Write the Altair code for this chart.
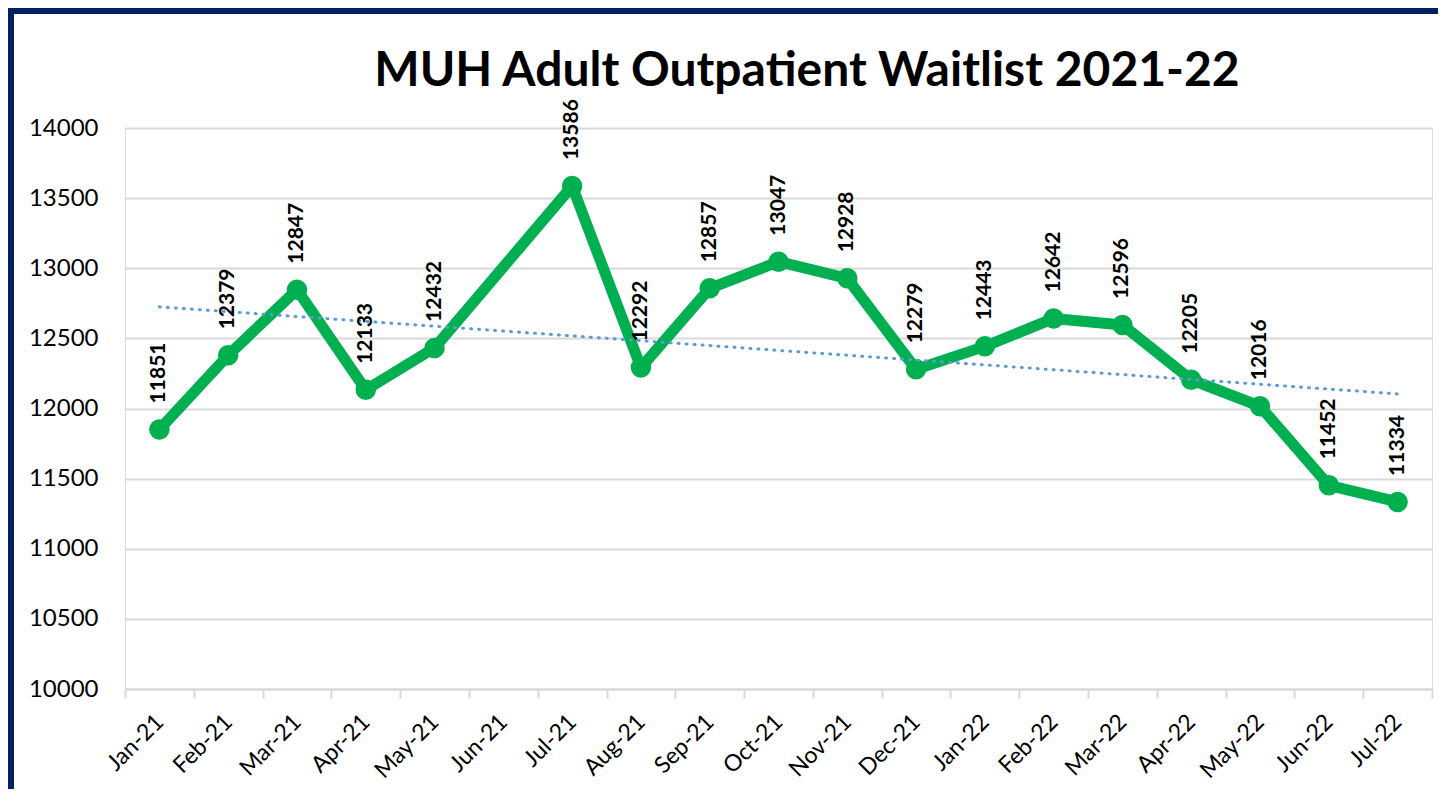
import altair as alt
import pandas as pd
import json

months = ["Jan-21", "Feb-21", "Mar-21", "Apr-21", "May-21", "Jun-21", "Jul-21", "Aug-21",
          "Sep-21", "Oct-21", "Nov-21", "Dec-21", "Jan-22", "Feb-22", "Mar-22", "Apr-22",
          "May-22", "Jun-22", "Jul-22"]
values = [11851, 12379, 12847, 12133, 12432, None, 13586, 12292,
          12857, 13047, 12928, 12279, 12443, 12642, 12596, 12205,
          12016, 11452, 11334]
y_ticks = [10000, 10500, 11000, 11500, 12000, 12500, 13000, 13500, 14000]
title_text = "MUH Adult Outpatient Waitlist 2021-22"

rows = [{"month": m, "idx": i, "value": v} for i, (m, v) in enumerate(zip(months, values)) if v is not None]
df = pd.DataFrame(rows)

FONT = "Lato"
GREEN = "#00B050"

x_enc = alt.X("month:N", sort=months,
              scale=alt.Scale(domain=months, paddingInner=0, paddingOuter=0),
              axis=alt.Axis(title=None, labelAngle=315, labelAlign="right", labelBaseline="middle",
                            labelFontSize=23, labelFont=FONT, labelColor="#000000",
                            labelPadding=20, tickBand="extent", ticks=True, tickSize=9,
                            tickColor="#d9d9d9", tickWidth=2, domainColor="#d9d9d9",
                            domainWidth=2, grid=False))
y_enc = alt.Y("value:Q", scale=alt.Scale(domain=[10000, 14000], nice=False, zero=False),
              axis=alt.Axis(title=None, values=y_ticks, format="d", labelFontSize=24, labelFont=FONT,
                            labelColor="#000000", labelPadding=27, ticks=False, domain=False,
                            grid=True, gridColor="#d9d9d9", gridWidth=2))

base = alt.Chart(df)

line = base.mark_line(color=GREEN, strokeWidth=11, strokeJoin="round").encode(
    x=x_enc, y=y_enc)
points = base.mark_point(filled=True, color=GREEN, size=420, opacity=1).encode(
    x=x_enc, y=y_enc)

month_expr = json.dumps(months) + "[round(datum.idx)]"
trend = base.transform_regression("idx", "value", extent=[0, len(months) - 1]).transform_calculate(
    month=month_expr).mark_line(
    color="#5B9BD5", strokeWidth=3, strokeDash=[1, 7], strokeCap="round").encode(
    x=x_enc, y=y_enc)

labels = base.mark_text(angle=270, align="left", baseline="middle", dx=26,
                        fontSize=21, fontWeight="bold", font=FONT, color="#000000").encode(
    x=x_enc, y=y_enc, text=alt.Text("value:Q", format="d"))

one = alt.Chart(pd.DataFrame({"t": [title_text]}))
title = one.mark_text(font=FONT, fontSize=48, fontWeight="bold", color="#000000",
                      align="center", baseline="middle").encode(
    x=alt.value(682), y=alt.value(-56), text="t:N")

border = one.mark_rect(filled=False, stroke="#002060", strokeWidth=6, fill=None).encode(
    x=alt.value(-114), x2=alt.value(1340), y=alt.value(-117), y2=alt.value(700))

chart = alt.layer(line, points, trend, labels, title, border).properties(
    width=1307, height=561,
    padding={"left": 117, "top": 120, "right": 6, "bottom": 100},
    autosize=alt.AutoSizeParams(type="none"),
).configure_view(stroke=None).configure(background="#ffffff")

chart.save("out.html", embed_options={"renderer": "svg", "actions": False})
